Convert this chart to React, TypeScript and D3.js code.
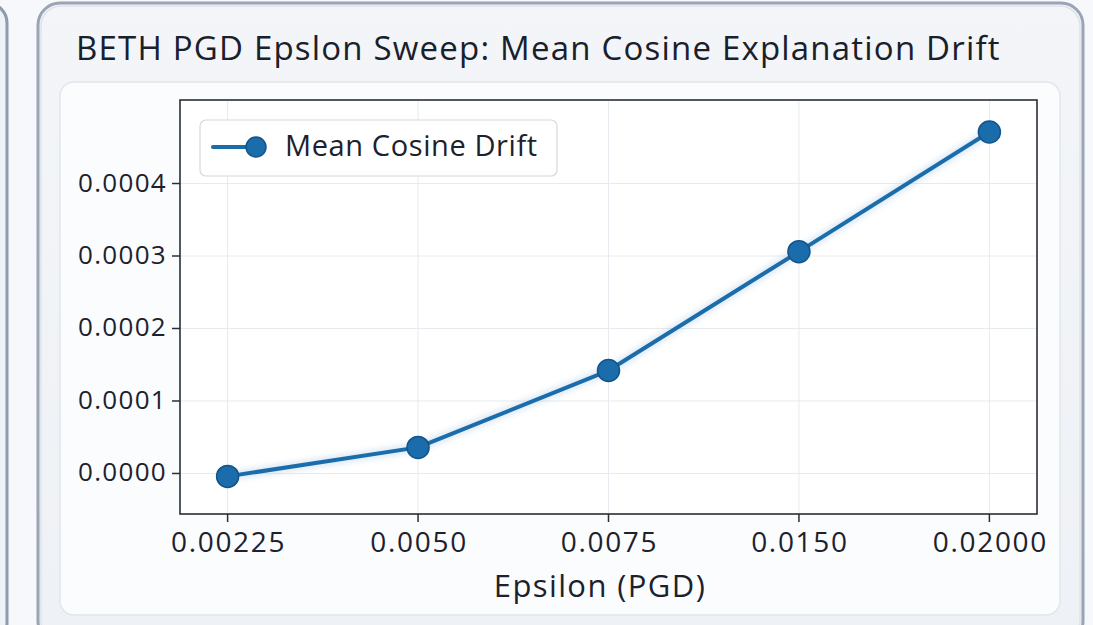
import React from "react";
import * as d3 from "d3";

const epsilonLabels: string[] = ["0.00225", "0.0050", "0.0075", "0.0150", "0.02000"];
const meanCosineDrift: number[] = [-0.000004, 0.000036, 0.000142, 0.000306, 0.000471];
const yTickValues: number[] = [0, 0.0001, 0.0002, 0.0003, 0.0004];
const titleText = "BETH PGD Epslon Sweep: Mean Cosine Explanation Drift";
const seriesName = "Mean Cosine Drift";
const xAxisTitle = "Epsilon (PGD)";

const W = 1093;
const H = 625;
const plot = { left: 180, top: 100, right: 1037, bottom: 514 };
const FONT = "'Open Sans', 'Noto Sans', sans-serif";
const TEXT = "#1c222d";
const BLUE = "#1b6cab";

export default function App() {
  const x = d3
    .scalePoint<string>()
    .domain(epsilonLabels)
    .range([plot.left, plot.right])
    .padding(0.25);
  const y = d3
    .scaleLinear()
    .domain([-0.0000559, 0.0005152])
    .range([plot.bottom, plot.top]);

  const pts = epsilonLabels.map((l, i) => [x(l) as number, y(meanCosineDrift[i])] as [number, number]);
  const line = d3.line().curve(d3.curveLinear)(pts) || "";
  const fmt = d3.format(".4f");

  return (
    <svg
      width={W}
      height={H}
      viewBox={`0 0 ${W} ${H}`}
      style={{ position: "absolute", left: 0, top: 0, background: "#f6f8fb" }}
    >
      <defs>
        <linearGradient id="card" x1="0" y1="0" x2="0" y2="1">
          <stop offset="0" stopColor="#f3f5f8" />
          <stop offset="1" stopColor="#eef1f5" />
        </linearGradient>
        <filter id="glow" x="-10%" y="-10%" width="120%" height="120%">
          <feGaussianBlur stdDeviation="3" />
        </filter>
        <clipPath id="plotclip">
          <rect x={plot.left} y={plot.top} width={plot.right - plot.left} height={plot.bottom - plot.top} />
        </clipPath>
      </defs>

      {/* neighbouring card edge on the left */}
      <rect x={-300} y={3} width={307} height={640} rx={20} fill="#eef1f5" stroke="#8e9aad" strokeWidth={3} />

      {/* main card */}
      <rect x={38} y={3} width={1045} height={640} rx={22} fill="url(#card)" stroke="#9aa4b5" strokeWidth={3} />
      <rect x={41} y={6} width={1039} height={634} rx={20} fill="none" stroke="#dde3ea" strokeWidth={1.5} />

      {/* title */}
      <text x={76} y={60} fontFamily={FONT} fontSize={33} fontWeight={500} letterSpacing={1.2} fill="#18202b">
        {titleText}
      </text>

      {/* inner panel */}
      <rect x={60} y={82} width={1000} height={533} rx={14} fill="#fbfcfd" stroke="#e2e6ec" strokeWidth={1.5} />

      {/* plot area */}
      <rect x={plot.left} y={plot.top} width={plot.right - plot.left} height={plot.bottom - plot.top} fill="#ffffff" />

      {/* gridlines */}
      <g stroke="#e7eaee" strokeWidth={1}>
        {yTickValues.map((v) => (
          <line key={"gy" + v} x1={plot.left} x2={plot.right} y1={y(v)} y2={y(v)} />
        ))}
        {epsilonLabels.map((l) => (
          <line key={"gx" + l} x1={x(l)} x2={x(l)} y1={plot.top} y2={plot.bottom} />
        ))}
      </g>

      {/* frame */}
      <rect
        x={plot.left}
        y={plot.top}
        width={plot.right - plot.left}
        height={plot.bottom - plot.top}
        fill="none"
        stroke="#2a2e35"
        strokeWidth={1.6}
      />

      {/* y axis ticks */}
      <g>
        {yTickValues.map((v) => (
          <g key={"ty" + v}>
            <line x1={plot.left - 8} x2={plot.left} y1={y(v)} y2={y(v)} stroke="#2a2e35" strokeWidth={1.5} />
            <text
              x={plot.left - 13}
              y={y(v) + 8}
              textAnchor="end"
              fontFamily={FONT}
              fontSize={26}
              letterSpacing={1.3}
              fill={TEXT}
            >
              {fmt(v)}
            </text>
          </g>
        ))}
      </g>

      {/* x axis ticks */}
      <g>
        {epsilonLabels.map((l) => (
          <g key={"tx" + l}>
            <line x1={x(l)} x2={x(l)} y1={plot.bottom} y2={plot.bottom + 8} stroke="#2a2e35" strokeWidth={1.5} />
            <text x={(x(l) as number) + 1} y={552} textAnchor="middle" fontFamily={FONT} fontSize={28} letterSpacing={1.7} fill={TEXT}>
              {l}
            </text>
          </g>
        ))}
      </g>

      {/* x axis title */}
      <text x={600} y={597} textAnchor="middle" fontFamily={FONT} fontSize={31} letterSpacing={1.4} fill={TEXT}>
        {xAxisTitle}
      </text>

      {/* series */}
      <g clipPath="url(#plotclip)">
        <path d={line} fill="none" stroke="#8fb6d8" strokeWidth={8} opacity={0.35} filter="url(#glow)" />
        <path d={line} fill="none" stroke={BLUE} strokeWidth={4} strokeLinecap="round" strokeLinejoin="round" />
        {pts.map((p, i) => (
          <circle key={"pt" + i} cx={p[0]} cy={p[1]} r={11} fill={BLUE} stroke="#14548a" strokeWidth={1.5} />
        ))}
      </g>

      {/* legend */}
      <g>
        <rect x={200} y={120} width={357} height={56} rx={6} fill="#ffffff" stroke="#d4d8de" strokeWidth={1.2} />
        <line x1={213} x2={252} y1={147} y2={147} stroke={BLUE} strokeWidth={4} strokeLinecap="round" />
        <circle cx={256} cy={147} r={10} fill={BLUE} stroke="#14548a" strokeWidth={1.5} />
        <text x={285} y={156} fontFamily={FONT} fontSize={29} letterSpacing={0.6} fill={TEXT}>
          {seriesName}
        </text>
      </g>
    </svg>
  );
}
